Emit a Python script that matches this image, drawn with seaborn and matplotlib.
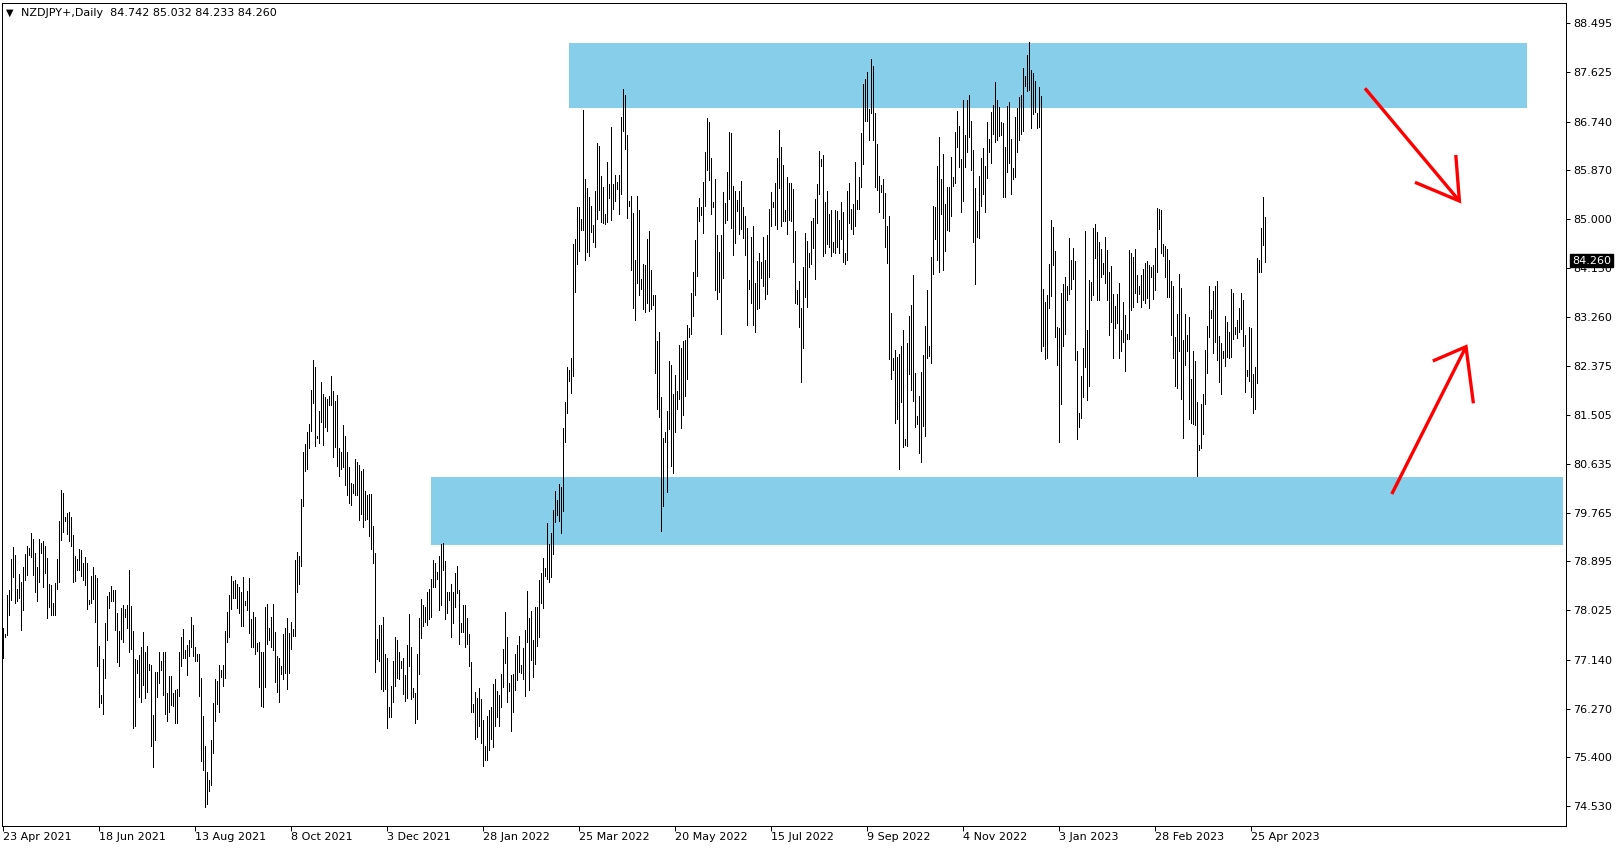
"""
NZDJPY daily bar chart with supply / demand zones, MetaTrader look.
"""
import pandas as pd
import seaborn as sns
from matplotlib import pyplot as plt
from matplotlib import transforms

SYMBOL = "NZDJPY+,Daily"
LAST_OHLC = [84.742, 85.032, 84.233, 84.260]

# daily highs / lows, one value per bar, oldest first (23 Apr 2021 ...)
highs = [
    77.70, 77.60, 78.30, 78.38, 78.94, 79.15, 79.01, 78.41, 78.67, 78.53, 78.80, 79.03, 79.17, 79.14, 79.40, 79.29, 79.04, 78.80, 79.29, 79.22,
    79.26, 79.17, 78.96, 78.49, 78.47, 78.16, 78.51, 78.93, 79.61, 80.17, 80.12, 79.69, 79.75, 79.78, 79.69, 79.37, 78.99, 78.94, 79.12, 79.09,
    78.86, 78.97, 78.87, 78.21, 78.63, 78.80, 78.65, 78.59, 77.39, 76.51, 77.15, 77.79, 78.28, 78.34, 78.46, 78.38, 78.38, 77.97, 77.65, 78.07,
    78.12, 78.04, 78.12, 78.74, 78.10, 77.65, 77.16, 77.14, 77.22, 77.36, 77.63, 77.28, 77.38, 77.06, 77.05, 76.15, 76.93, 76.93, 77.27, 77.12,
    77.28, 77.28, 76.54, 76.85, 76.85, 76.55, 76.60, 76.62, 77.28, 77.55, 77.69, 77.31, 77.40, 77.49, 77.91, 77.76, 77.37, 77.25, 77.25, 76.82,
    76.14, 75.61, 75.14, 74.99, 75.71, 76.36, 76.80, 76.76, 77.05, 76.96, 77.05, 77.65, 78.00, 78.30, 78.64, 78.55, 78.57, 78.50, 78.44, 78.35,
    78.62, 78.19, 78.37, 78.60, 77.87, 78.00, 77.91, 77.43, 77.46, 77.28, 77.27, 78.09, 78.14, 77.70, 77.91, 78.14, 77.63, 77.21, 77.18, 77.03,
    77.60, 77.70, 77.88, 77.61, 77.82, 77.68, 78.92, 79.07, 78.99, 80.01, 80.85, 80.99, 81.21, 81.35, 81.95, 82.49, 82.37, 81.14, 81.57, 82.09,
    81.88, 81.82, 81.80, 81.85, 82.20, 81.93, 81.76, 81.86, 80.92, 80.85, 81.33, 81.13, 80.84, 80.57, 80.29, 80.28, 80.72, 80.66, 80.62, 80.51,
    80.54, 80.15, 80.08, 80.10, 80.10, 79.53, 79.04, 77.51, 77.76, 77.76, 77.90, 77.24, 77.17, 76.29, 76.67, 77.12, 77.54, 77.49, 77.27, 77.12,
    77.18, 76.87, 77.40, 77.96, 77.37, 76.63, 76.55, 77.25, 77.88, 78.22, 78.12, 78.09, 78.35, 78.41, 78.58, 78.92, 78.87, 78.71, 78.99, 79.21,
    79.22, 78.90, 78.35, 78.34, 78.50, 78.34, 78.68, 78.81, 78.38, 77.80, 78.12, 78.12, 77.89, 77.60, 77.10, 76.35, 76.57, 76.45, 76.63, 76.44,
    76.07, 75.61, 76.14, 76.24, 76.30, 76.70, 76.80, 76.58, 76.52, 76.88, 77.33, 78.00, 77.54, 76.72, 76.86, 76.88, 77.25, 77.41, 77.57, 77.04,
    77.35, 77.67, 78.37, 77.89, 78.01, 77.50, 78.09, 78.08, 78.57, 78.69, 78.96, 78.78, 79.58, 79.20, 79.40, 79.81, 80.15, 79.99, 80.27, 80.23,
    81.28, 81.73, 82.37, 82.31, 82.53, 84.56, 84.65, 85.21, 85.21, 85.00, 86.94, 85.71, 85.55, 85.39, 85.23, 84.89, 85.50, 86.36, 86.30, 85.77,
    85.57, 85.09, 86.02, 85.62, 86.65, 85.63, 85.78, 85.66, 85.78, 86.82, 87.33, 87.22, 86.50, 85.33, 85.42, 85.11, 84.27, 85.41, 85.17, 83.93,
    84.20, 84.18, 84.65, 84.79, 84.09, 83.65, 83.65, 82.83, 82.99, 81.83, 81.09, 81.21, 81.58, 82.47, 82.40, 81.88, 82.22, 81.94, 82.76, 82.70,
    82.83, 82.84, 83.11, 83.06, 83.69, 84.05, 84.63, 85.22, 85.38, 85.21, 85.67, 86.19, 86.81, 86.74, 86.10, 85.31, 85.72, 84.71, 84.42, 84.72,
    85.49, 85.28, 85.85, 86.56, 86.54, 85.59, 85.51, 85.35, 85.51, 85.68, 85.21, 85.06, 84.85, 83.92, 84.69, 84.87, 83.86, 84.25, 84.40, 84.23,
    84.69, 84.28, 84.71, 85.18, 85.49, 85.31, 85.65, 86.10, 86.59, 86.28, 85.97, 85.16, 85.76, 85.64, 85.65, 85.54, 84.79, 83.74, 83.90, 83.42,
    84.14, 84.76, 84.61, 84.39, 84.96, 85.03, 85.36, 85.63, 86.22, 86.07, 86.14, 85.30, 85.50, 85.09, 85.17, 84.59, 85.17, 85.15, 84.99, 85.30,
    85.13, 84.40, 85.50, 85.64, 85.18, 85.27, 86.02, 85.34, 85.75, 86.54, 87.42, 87.50, 87.63, 86.97, 87.86, 87.73, 86.90, 86.34, 85.77, 85.61,
    85.71, 85.47, 84.88, 85.06, 83.32, 82.53, 82.67, 82.54, 82.60, 82.74, 83.02, 81.08, 82.80, 83.27, 83.47, 84.00, 82.26, 81.49, 81.85, 82.28,
    82.58, 83.09, 83.74, 82.74, 84.32, 85.24, 85.22, 85.95, 86.47, 85.72, 86.16, 85.27, 85.58, 85.58, 86.11, 85.76, 86.56, 86.93, 86.66, 86.07,
    87.13, 86.50, 87.13, 87.22, 86.75, 86.23, 85.55, 85.14, 85.77, 86.09, 86.27, 85.95, 86.73, 86.43, 86.91, 87.04, 87.45, 87.13, 87.00, 86.73,
    86.72, 86.29, 87.02, 87.09, 86.43, 85.91, 86.82, 86.98, 87.18, 87.22, 87.70, 87.55, 87.93, 88.16, 87.66, 87.61, 87.47, 86.89, 87.36, 87.20,
    83.75, 83.52, 83.65, 84.20, 84.99, 84.86, 84.43, 83.08, 83.05, 83.68, 83.84, 83.97, 83.81, 84.66, 84.28, 84.49, 84.26, 82.65, 81.54, 82.20,
    82.70, 84.79, 83.02, 83.92, 83.88, 84.84, 84.91, 84.77, 84.59, 84.47, 84.21, 84.68, 84.45, 84.06, 84.17, 83.66, 83.45, 83.66, 83.86, 83.02,
    83.53, 83.29, 82.96, 84.45, 84.40, 84.33, 84.47, 84.00, 83.80, 84.00, 84.12, 84.21, 84.25, 84.18, 84.14, 84.18, 84.48, 85.20, 85.18, 85.16,
    84.56, 84.52, 84.47, 84.27, 83.90, 83.80, 82.90, 83.31, 84.03, 83.78, 82.84, 83.31, 82.93, 83.26, 82.15, 82.65, 82.47, 81.74, 80.97, 81.70,
    81.89, 82.67, 83.10, 83.81, 83.38, 83.71, 83.81, 83.89, 82.92, 82.79, 82.65, 83.27, 83.17, 82.99, 83.75, 83.68, 83.08, 83.20, 83.41, 83.68,
    83.56, 82.93, 82.31, 83.07, 83.05, 82.24, 82.37, 84.30, 84.27, 84.84, 85.39, 85.032,
]
lows = [
    77.17, 77.55, 77.58, 77.94, 78.21, 78.62, 78.15, 78.18, 78.25, 77.67, 78.03, 78.56, 78.65, 79.01, 78.97, 78.65, 78.34, 78.19, 78.53, 79.04,
    78.43, 78.69, 77.89, 78.09, 77.94, 77.94, 77.94, 78.41, 78.53, 79.28, 79.42, 79.62, 79.39, 79.26, 79.17, 78.53, 78.55, 78.74, 78.75, 78.63,
    78.56, 78.47, 78.05, 78.13, 78.15, 78.23, 77.82, 77.02, 76.30, 76.36, 76.18, 76.82, 77.49, 78.07, 78.18, 78.18, 77.67, 77.10, 77.03, 77.51,
    77.46, 77.91, 77.71, 77.28, 77.34, 75.93, 75.95, 76.91, 76.48, 76.39, 76.69, 76.45, 76.57, 76.96, 75.61, 75.23, 75.70, 76.48, 76.72, 76.96,
    76.52, 76.18, 76.05, 76.21, 76.33, 76.32, 76.02, 76.01, 76.50, 77.03, 77.18, 77.18, 76.86, 77.21, 77.37, 77.20, 77.11, 77.11, 76.50, 75.34,
    75.17, 74.52, 74.56, 74.79, 74.91, 75.47, 76.04, 76.35, 76.21, 76.83, 76.68, 76.81, 77.45, 77.55, 78.04, 78.25, 78.25, 78.06, 77.97, 77.75,
    77.75, 78.11, 78.02, 77.61, 77.36, 77.36, 77.24, 77.30, 76.66, 76.32, 76.30, 76.66, 77.42, 77.49, 77.36, 77.31, 76.74, 76.56, 76.39, 76.88,
    76.80, 76.90, 76.62, 76.91, 77.33, 77.57, 77.56, 78.34, 78.49, 78.82, 79.89, 80.50, 80.54, 80.91, 81.23, 81.72, 80.96, 81.10, 81.00, 81.39,
    80.97, 81.30, 81.23, 81.69, 81.69, 80.76, 80.94, 80.60, 80.41, 80.54, 80.58, 80.25, 80.08, 79.94, 79.90, 80.11, 80.08, 80.08, 79.63, 79.74,
    79.50, 79.63, 79.65, 79.35, 79.12, 78.86, 76.93, 77.15, 77.11, 76.61, 76.59, 76.62, 75.93, 76.11, 76.12, 76.39, 76.68, 76.81, 76.80, 76.99,
    76.53, 76.41, 76.46, 77.02, 76.44, 76.48, 76.01, 76.08, 76.88, 77.53, 77.75, 77.82, 77.76, 77.87, 77.90, 78.44, 78.44, 78.58, 78.02, 78.12,
    78.74, 77.87, 77.98, 78.21, 77.55, 77.80, 78.09, 78.33, 77.42, 77.64, 77.64, 77.36, 77.42, 77.02, 76.21, 76.21, 75.72, 75.76, 75.95, 75.65,
    75.25, 75.36, 75.36, 75.53, 75.73, 75.59, 75.96, 76.11, 75.96, 76.30, 76.66, 77.09, 76.38, 76.58, 75.87, 76.20, 76.60, 76.77, 76.92, 76.90,
    76.80, 76.50, 77.46, 76.60, 77.13, 76.84, 77.06, 77.39, 77.55, 78.16, 78.07, 78.64, 78.58, 78.53, 78.62, 79.03, 79.59, 79.72, 79.61, 79.40,
    79.79, 81.03, 81.54, 82.11, 81.90, 82.21, 83.70, 84.20, 84.43, 84.80, 84.81, 84.27, 84.42, 84.34, 84.77, 84.60, 84.50, 85.01, 85.17, 84.95,
    84.93, 84.92, 84.95, 85.37, 84.99, 85.19, 85.33, 85.54, 85.09, 85.45, 86.58, 86.26, 85.03, 85.23, 84.10, 83.42, 83.21, 83.86, 83.64, 83.76,
    83.40, 83.35, 83.51, 83.37, 83.40, 83.47, 82.26, 81.61, 81.47, 79.43, 79.89, 81.03, 80.14, 81.26, 80.60, 80.47, 81.20, 81.61, 81.80, 81.27,
    81.50, 81.85, 82.14, 82.89, 82.96, 83.28, 83.64, 83.98, 84.96, 85.08, 84.76, 85.24, 85.87, 85.70, 85.09, 85.21, 83.73, 83.58, 83.70, 82.96,
    83.95, 84.94, 84.99, 85.36, 84.85, 84.37, 84.58, 85.15, 84.74, 84.83, 84.66, 84.37, 83.12, 83.76, 83.51, 83.12, 82.99, 83.39, 83.41, 83.95,
    83.81, 83.58, 83.67, 83.96, 84.87, 85.21, 84.89, 84.83, 85.56, 84.87, 84.97, 84.97, 84.74, 84.99, 84.97, 84.23, 83.50, 83.48, 83.08, 82.10,
    82.71, 83.62, 83.44, 84.15, 84.20, 84.48, 83.93, 84.94, 85.45, 85.95, 84.34, 84.40, 84.56, 84.51, 84.35, 84.42, 84.39, 84.51, 84.39, 84.65,
    84.23, 84.20, 84.27, 84.94, 84.82, 84.74, 84.87, 85.18, 85.19, 85.58, 85.99, 86.76, 86.76, 86.41, 86.89, 86.42, 85.58, 85.52, 85.13, 85.49,
    85.03, 84.51, 84.21, 82.50, 82.15, 82.31, 81.37, 81.44, 80.55, 81.73, 80.93, 80.97, 80.96, 82.23, 81.95, 81.76, 81.30, 81.35, 80.82, 80.67,
    81.31, 81.14, 82.53, 82.56, 82.44, 84.03, 84.65, 84.28, 84.05, 85.10, 84.09, 84.44, 84.81, 84.79, 85.06, 85.59, 85.65, 86.28, 85.93, 85.13,
    85.32, 85.94, 86.19, 86.47, 85.87, 84.60, 83.84, 84.69, 84.67, 85.24, 85.45, 85.13, 85.74, 86.19, 86.01, 86.52, 86.38, 86.41, 86.48, 86.50,
    85.40, 85.40, 85.85, 86.00, 85.45, 85.72, 85.76, 86.20, 86.41, 86.52, 86.57, 87.38, 87.28, 87.30, 86.63, 86.87, 86.92, 86.63, 86.65, 82.64,
    82.74, 82.50, 82.53, 83.42, 83.63, 84.18, 82.90, 82.39, 81.02, 81.71, 82.74, 82.96, 83.55, 83.67, 83.76, 83.94, 82.49, 81.08, 81.30, 81.46,
    81.83, 82.37, 81.78, 82.03, 83.55, 83.65, 84.30, 83.56, 83.56, 83.97, 84.03, 83.87, 83.55, 82.94, 83.17, 82.53, 83.05, 83.15, 82.53, 82.64,
    82.81, 82.30, 82.87, 82.86, 83.38, 83.44, 83.69, 83.53, 83.66, 83.44, 83.56, 83.51, 83.59, 83.41, 83.96, 83.58, 83.74, 84.06, 84.83, 84.40,
    84.35, 83.96, 83.62, 83.62, 82.93, 82.53, 82.03, 81.99, 82.65, 81.79, 81.10, 82.39, 82.65, 81.44, 81.37, 81.34, 81.33, 80.41, 80.89, 80.91,
    81.16, 81.71, 82.26, 82.89, 83.24, 82.62, 82.81, 82.49, 82.10, 81.89, 82.52, 82.38, 82.55, 82.52, 82.55, 82.86, 82.95, 82.88, 82.98, 83.04,
    82.74, 81.92, 82.21, 82.12, 81.82, 81.54, 81.61, 82.07, 84.06, 84.06, 84.54, 84.233,
]

date_labels = ["23 Apr 2021", "18 Jun 2021", "13 Aug 2021", "8 Oct 2021",
               "3 Dec 2021", "28 Jan 2022", "25 Mar 2022", "20 May 2022",
               "15 Jul 2022", "9 Sep 2022", "4 Nov 2022", "3 Jan 2023",
               "28 Feb 2023", "25 Apr 2023"]
BARS_PER_LABEL = 48

price_ticks = [88.495, 87.625, 86.740, 85.870, 85.000, 84.130, 83.260,
               82.375, 81.505, 80.635, 79.765, 78.895, 78.025, 77.140,
               76.270, 75.400, 74.530]

# zones: (first bar, last bar, bottom price, top price)
supply_zone = (282.8, 761.8, 86.99, 88.15)
demand_zone = (213.9, 780.0, 79.18, 80.40)

# hand drawn arrows: shaft start, tip, two head ends (bar index, price)
arrow_down = [(681.0, 87.335), (728.2, 85.325), (726.4, 86.145), (706.0, 85.658)]
arrow_up = [(694.4, 80.097), (731.5, 82.725), (714.9, 82.470), (735.2, 81.715)]

ZONE_COLOR = "#87CEEB"
FONT_SIZE = 8

sns.set_style("white")
plt.rcParams["font.family"] = ["DejaVu Sans"]

df = pd.DataFrame({"high": highs, "low": lows})
df["bar"] = range(len(df))

fig = plt.figure(figsize=(16.24, 8.5), dpi=100)
ax = fig.add_axes([2 / 1624, 24 / 850, 1564 / 1624, 823 / 850])

for first, last, bottom, top in (supply_zone, demand_zone):
    ax.fill_between([first, last], bottom, top, color=ZONE_COLOR,
                    linewidth=0, zorder=1)

ax.vlines(df["bar"], df["low"], df["high"], color="black", linewidth=0.72,
          antialiased=False, zorder=2)

for start, tip, head_a, head_b in (arrow_down, arrow_up):
    ax.plot([start[0], tip[0]], [start[1], tip[1]], color="red", lw=2.4,
            solid_capstyle="butt", zorder=3)
    ax.plot([head_a[0], tip[0], head_b[0]], [head_a[1], tip[1], head_b[1]],
            color="red", lw=2.4, solid_joinstyle="miter",
            solid_capstyle="butt", zorder=3)

ax.set_xlim(-0.5, 781.5)
ax.set_ylim(74.174, 88.857)

ax.yaxis.tick_right()
ax.set_yticks(price_ticks)
ax.set_yticklabels([f"{p:.3f}" for p in price_ticks])
ax.tick_params(axis="y", right=True, left=False, direction="out", length=3,
               width=0.72, pad=2, labelsize=FONT_SIZE, colors="black")

ax.set_xticks([i * BARS_PER_LABEL for i in range(len(date_labels))])
ax.set_xticklabels(date_labels, ha="left")
ax.tick_params(axis="x", bottom=True, direction="out", length=3.5,
               width=0.72, pad=1, labelsize=FONT_SIZE, colors="black")

for spine in ax.spines.values():
    spine.set_color("black")
    spine.set_linewidth(0.72)

# last price tag on the price scale
tag_tr = transforms.blended_transform_factory(ax.transAxes, ax.transData)
ax.text(1.0 + 6 / 1564, LAST_OHLC[3], f"{LAST_OHLC[3]:.3f}",
        transform=tag_tr, ha="left", va="center", color="white",
        fontsize=FONT_SIZE, clip_on=False, zorder=6,
        bbox=dict(boxstyle="square,pad=0.15", fc="black", ec="black"))

# header
fig.text(6 / 1624, 1 - 13 / 850, "\u25bc", fontsize=7, va="center",
         ha="left", color="black")
fig.text(21 / 1624, 1 - 13 / 850,
         SYMBOL + "  " + " ".join(f"{v:.3f}" for v in LAST_OHLC),
         fontsize=FONT_SIZE, va="center", ha="left", color="black")

fig.savefig("out.png", dpi=100, facecolor="white")
